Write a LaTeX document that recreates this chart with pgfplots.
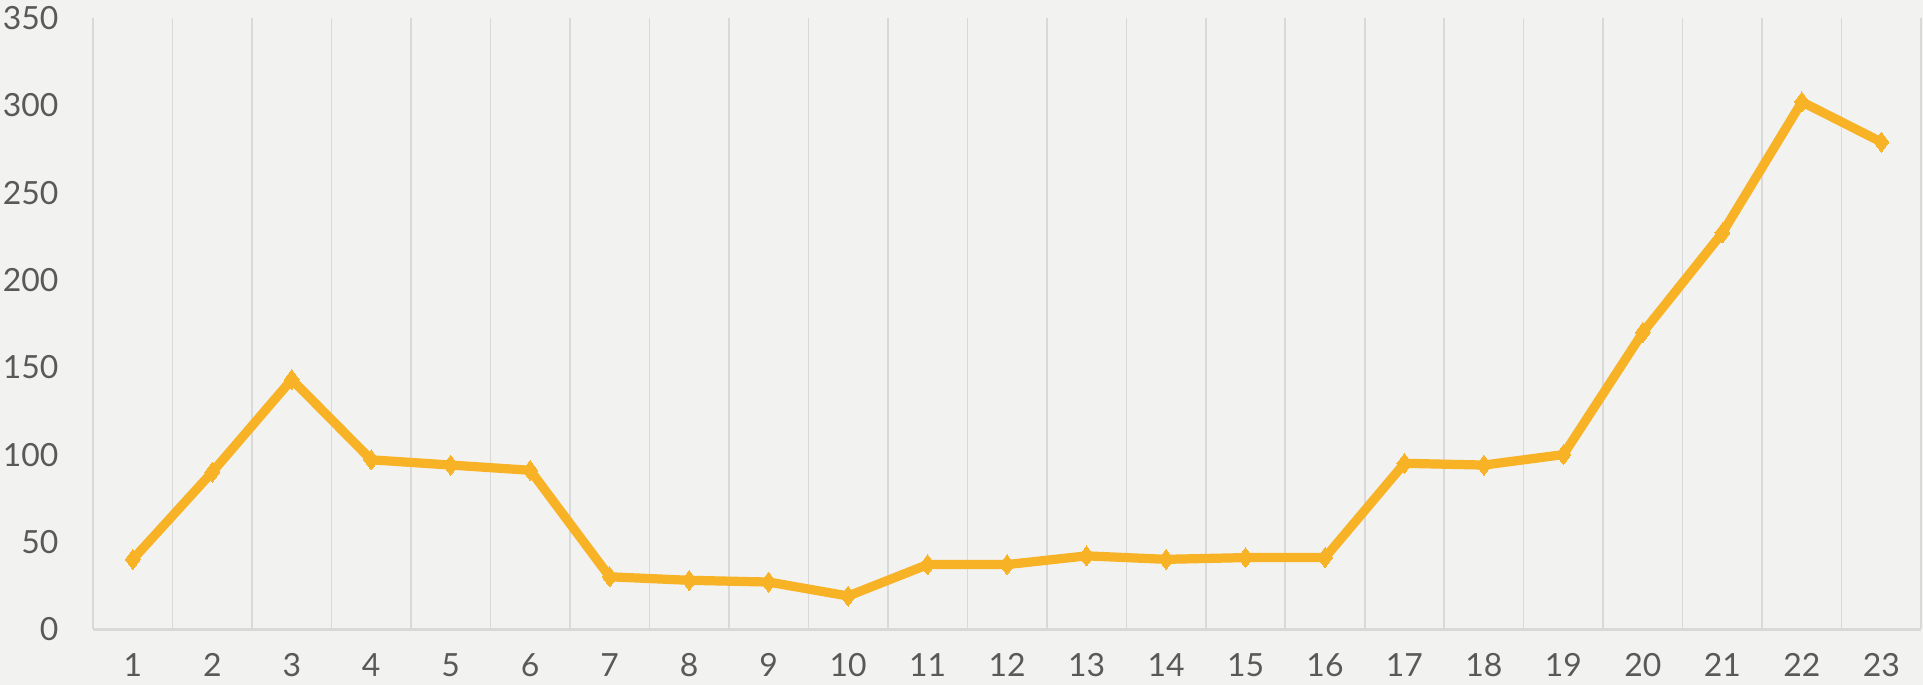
\documentclass[border=0pt]{standalone}
\usepackage{fontspec}
\setmainfont{Lato}
\usepackage{xcolor}
\usepackage{pgfplots}
\pgfplotsset{compat=1.18}
\definecolor{bg}{HTML}{F2F2F0}
\definecolor{gridc}{HTML}{D9D9D9}
\definecolor{txt}{HTML}{595959}
\definecolor{linec}{HTML}{F8B226}
\begin{document}%
\pagecolor{bg}%
\begin{tikzpicture}
\fill[bg] (0,0) rectangle (500pt,178.1pt);
\begin{axis}[
  at={(24.2pt,14.5pt)}, anchor=south west,
  scale only axis, width=475.3pt, height=158.9pt,
  xmin=0.5, xmax=23.5, ymin=0, ymax=350,
  axis x line*=bottom, axis y line*=left,
  x axis line style={-, draw=gridc, line width=0.7pt},
  y axis line style={-, draw=gridc, line width=0.4pt},
  xtick={1,...,23}, ytick={0,50,...,350},
  minor xtick={1.5,2.5,...,23.5},
  xminorgrids, minor grid style={draw=gridc, line width=0.4pt},
  major tick length=0pt, minor tick length=0pt,
  /pgf/number format/assume math mode=true,
  tick label style={font=\fontsize{8.3}{10}\selectfont, text=txt},
  yticklabel style={anchor=east, inner sep=0pt, xshift=-8.8pt},
  xticklabel style={anchor=north, inner sep=0pt, yshift=-6.2pt},
  clip=false,
]
\addplot[linec, line width=2.4pt, mark=diamond*, mark size=2.6pt, mark options={fill=linec, draw=linec, line width=0pt}]
coordinates {
(1,40) (2,90) (3,143) (4,97) (5,94) (6,91) (7,30) (8,28) (9,27) (10,19)
(11,37) (12,37) (13,42) (14,40) (15,41) (16,41) (17,95) (18,94) (19,100)
(20,170) (21,227) (22,302) (23,279)
};
\end{axis}
\pgfresetboundingbox
\useasboundingbox (0,0) rectangle (500pt,178.1pt);
\end{tikzpicture}%
\end{document}
